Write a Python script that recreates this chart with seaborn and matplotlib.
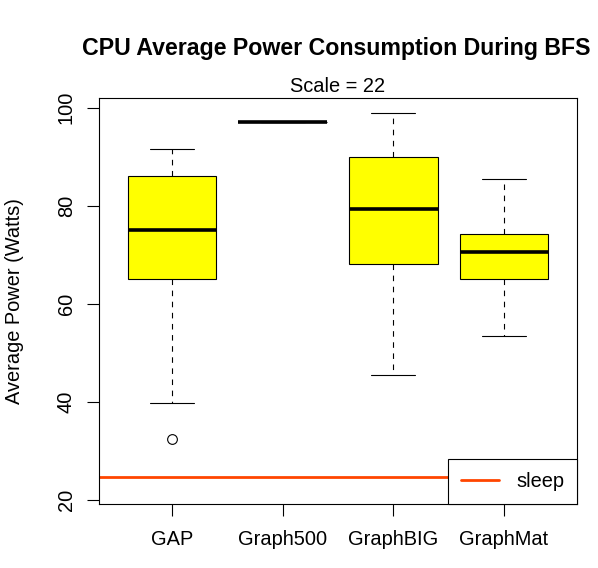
import matplotlib
matplotlib.use("Agg")
import matplotlib.pyplot as plt
import seaborn as sns
import pandas as pd

# values (per framework, enough points to give the box stats)
frameworks = ["GAP", "Graph500", "GraphBIG", "GraphMat"]
gap_power = [32.5, 39.7, 65.0, 65.0, 75.0, 75.0, 86.1, 86.1, 91.5]
graph500_power = [97.1, 97.1, 97.1, 97.1, 97.1]
graphbig_power = [45.4, 68.2, 79.4, 90.0, 98.9]
graphmat_power = [53.4, 65.0, 70.5, 74.2, 85.5]
sleep_power = 24.6

rows = []
for name, vals in zip(frameworks, [gap_power, graph500_power, graphbig_power, graphmat_power]):
    for v in vals:
        rows.append({"framework": name, "power": v})
df = pd.DataFrame(rows)

sns.set_style("ticks")
plt.rcParams['font.family'] = ['Liberation Sans', 'DejaVu Sans']
plt.rcParams['text.color'] = 'black'
plt.rcParams['axes.labelcolor'] = 'black'

fig = plt.figure(figsize=(5.98, 5.68), dpi=100)
ax = fig.add_axes([0.1656, 0.1127, 0.7993, 0.7143])

sns.boxplot(data=df, x="framework", y="power", order=frameworks, ax=ax,
            color="yellow", saturation=1, linecolor="black", linewidth=0.8,
            width=0.8,
            whiskerprops={"linestyle": (0, (5, 5))},
            medianprops={"linewidth": 2.6, "color": "black"},
            flierprops={"marker": "o", "markersize": 7, "markerfacecolor": "none",
                        "markeredgecolor": "black", "markeredgewidth": 0.8})

ax.axhline(sleep_power, color="#FF4500", lw=2, label="sleep", zorder=1)

ax.set_xlim(-0.66, 3.66)
ax.set_ylim(19.2, 101.9)
ax.set_yticks([20, 40, 60, 80, 100])
ax.set_xlabel("")
ax.set_ylabel("")
for s in ax.spines.values():
    s.set_visible(True)
    s.set_linewidth(0.8)
    s.set_color("black")
ax.tick_params(axis="both", direction="out", length=8.6, width=0.8, labelsize=14.4,
               colors="black")
ax.tick_params(axis="x", pad=10)
ax.tick_params(axis="y", pad=8)
plt.setp(ax.get_yticklabels(), rotation=90, va="center")

leg = ax.legend(loc="lower right", borderaxespad=0, fancybox=False, framealpha=1,
                edgecolor="black", fontsize=14.4, handlelength=1.9, handletextpad=0.85,
                borderpad=0.65)
leg.get_frame().set_linewidth(0.8)

fig.text(336 / 598, 1 - 48 / 568, "CPU Average Power Consumption During BFS",
         ha="center", va="center", fontsize=16.7, fontweight="bold")
fig.text(0.5652, 1 - 87 / 568, "Scale = 22", ha="center", va="center", fontsize=14.4)
fig.text(0.025, 1 - 301 / 568, "Average Power (Watts)", ha="center", va="center",
         rotation=90, fontsize=14.4)

fig.savefig("out.png", dpi=100)
